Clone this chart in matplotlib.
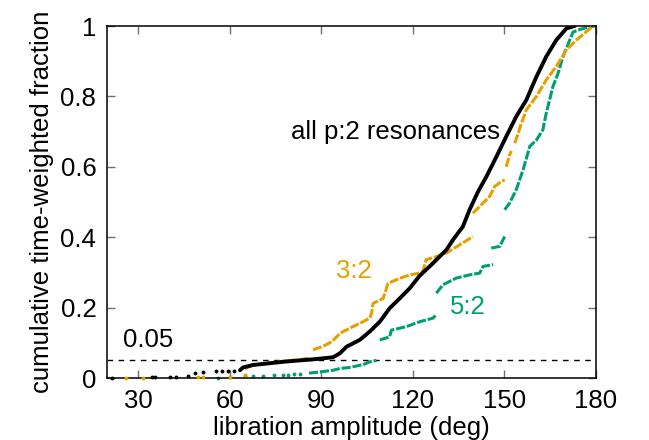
import numpy as np
import matplotlib
matplotlib.use("Agg")
import matplotlib.pyplot as plt

plt.rcParams['font.family'] = ['Liberation Sans', 'DejaVu Sans']

nan = np.nan
ORANGE = '#E69F00'
GREEN = '#009E73'

# ---- all p:2 resonances (black) ----
black_sparse_x = [21.4, 34.5, 35.5, 40.4, 42.4, 46.4, 48.6, 51.4, 55.7, 57.5, 59.5, 61.5]
black_sparse_y = [0.0, 0.004, 0.004, 0.004, 0.004, 0.007, 0.015, 0.017, 0.021, 0.021, 0.021, 0.021]
black_x = [63.4, 64.4, 67.7, 72.1, 77.5, 83.0, 88.5, 93.9, 96.1, 98.3,
           102.6, 105.9, 109.2, 112.4, 115.7, 119.0, 122.2, 126.6, 131.0, 133.2,
           136.4, 138.6, 141.4, 144.1, 147.4, 150.6, 153.9, 157.2, 160.5, 163.7,
           167.0, 170.3, 173.0]
black_y = [0.022, 0.030, 0.037, 0.041, 0.046, 0.050, 0.054, 0.059,
           0.070, 0.089, 0.108, 0.132, 0.160, 0.198, 0.226, 0.255, 0.290, 0.326,
           0.364, 0.393, 0.430, 0.478, 0.530, 0.572, 0.629, 0.686, 0.743, 0.790,
           0.856, 0.913, 0.960, 0.993, 1.0]

# ---- 3:2 (orange) ----
r32_sparse_x = [26.2, 31.6, 49.7, 51.3, 60.0, 65.0]
r32_sparse_y = [0.0, 0.0, 0.002, 0.002, 0.003, 0.009]
r32_x = [65.0, 67.7, 71.7, 74.2, 78.6, 83.0, 86.2, nan,
         87.3, 90.6, 93.4, 96.0, 97.2, 100.4, 103.7, 105.9, 106.5, 107.0, 110.3,
         111.9, 115.7, 119.0, 121.7, 123.3, 124.4, 127.7, 131.0, 135.3, 139.7, nan,
         139.7, 143.0, 145.2, 146.8, 148.5, 150.1, nan,
         150.6, 151.7, 152.3, nan,
         153.4, 154.5, 155.5, 157.2, 160.5, 163.7, 167.0, 170.3, 173.6, 176.7, 179.0]
r32_y = [0.027, 0.037, 0.040, 0.044, 0.049, 0.052, 0.057, nan,
         0.080, 0.090, 0.103, 0.125, 0.132, 0.146, 0.160, 0.170, 0.184, 0.212, 0.226,
         0.269, 0.283, 0.293, 0.297, 0.303, 0.336, 0.345, 0.355, 0.378, 0.402, nan,
         0.468, 0.497, 0.516, 0.544, 0.555, 0.563, nan,
         0.600, 0.634, 0.645, nan,
         0.667, 0.695, 0.722, 0.762, 0.800, 0.847, 0.885, 0.932, 0.960, 0.983, 1.0]

# ---- 5:2 (green) ----
r52_sparse_x = [56.2, 60.0, 64.9, 67.7, 71.0, 74.5, 77.5, 79.0, 81.0, 83.0]
r52_sparse_y = [0.0, 0.003, 0.005, 0.005, 0.007, 0.008, 0.009, 0.009, 0.010, 0.012]
r52_x = [86.0, 88.4, 93.9, 96.1, 99.3, 103.7, 105.9, 108.1, nan,
         109.2, 112.4, 113.0, 117.9, 122.3, 126.6, 127.7, nan,
         127.7, 129.9, 134.3, 138.6, 141.9, 143.0, 146.3, nan,
         145.7, 148.5, 150.1, nan,
         150.1, 151.7, 153.9, 155.0, 156.1, 157.7, 158.3, 160.5, 162.6, 163.7,
         164.8, 165.9, 167.6, 169.2, 171.4, 172.5, 174.7, 178.0, 179.5]
r52_y = [0.014, 0.016, 0.022, 0.027, 0.030, 0.038, 0.046, 0.050, nan,
         0.108, 0.117, 0.136, 0.146, 0.160, 0.170, 0.180, nan,
         0.241, 0.265, 0.284, 0.293, 0.298, 0.317, 0.322, nan,
         0.369, 0.374, 0.402, nan,
         0.478, 0.497, 0.535, 0.563, 0.591, 0.639, 0.658, 0.676, 0.705, 0.752,
         0.790, 0.828, 0.866, 0.913, 0.960, 0.983, 0.990, 0.998, 1.0]

threshold = 0.05
x_ticks = [30, 60, 90, 120, 150, 180]
y_ticks = [0, 0.2, 0.4, 0.6, 0.8, 1.0]
y_ticklabels = ['0', '0.2', '0.4', '0.6', '0.8', '1']

fig = plt.figure(figsize=(6.49, 4.40), dpi=100)
ax = fig.add_axes([0.1656, 0.1409, 0.7527, 0.8])

ax.axhline(threshold, color='black', lw=1.0, ls=(0, (4, 4)), zorder=1)

ax.plot(r52_x, r52_y, color=GREEN, lw=2.2, ls=(0, (3, 0.6)), zorder=2)
ax.plot(r52_sparse_x, r52_sparse_y, 'o', color=GREEN, ms=2.8, mew=0, zorder=2, clip_on=False)
ax.plot(r32_x, r32_y, color=ORANGE, lw=2.2, ls=(0, (3, 0.6)), zorder=3)
ax.plot(r32_sparse_x, r32_sparse_y, 'o', color=ORANGE, ms=2.8, mew=0, zorder=3, clip_on=False)
ax.plot(black_x, black_y, color='black', lw=2.8, solid_capstyle='round', zorder=4)
ax.plot(black_sparse_x, black_sparse_y, 'o', color='black', ms=2.8, mew=0, zorder=4, clip_on=False)

fs = 18.5
ax.text(25, 0.075, '0.05', fontsize=fs, color='black', ha='left', va='bottom')
ax.text(80, 0.70, 'all p:2 resonances', fontsize=fs, color='black', ha='left', va='center')
ax.text(95, 0.305, '3:2', fontsize=fs, color=ORANGE, ha='left', va='center')
ax.text(132, 0.203, '5:2', fontsize=fs, color=GREEN, ha='left', va='center')

ax.set_xlim(20, 180)
ax.set_ylim(0, 1)
ax.set_xticks(x_ticks)
ax.set_yticks(y_ticks)
ax.set_yticklabels(y_ticklabels)
ax.tick_params(direction='in', length=6, width=1.0, color='#707070',
               top=True, right=True, labelsize=fs, pad=8)
for s in ax.spines.values():
    s.set_linewidth(1.1)

ax.set_xlabel('libration amplitude (deg)', fontsize=fs, labelpad=2)
ax.set_ylabel('cumulative time-weighted fraction', fontsize=fs, labelpad=5)

fig.savefig('out.png', dpi=100)
